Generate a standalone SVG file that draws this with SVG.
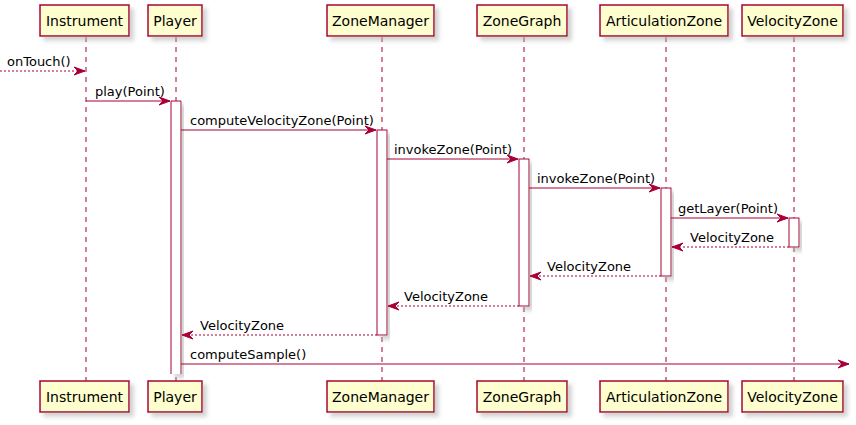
<svg xmlns="http://www.w3.org/2000/svg" width="856" height="425" viewBox="0 0 856 425">
<style>
.box{fill:#FEFECE;stroke:#A80036;stroke-width:1.5;filter:url(#sh)}
.act{fill:#FFFFFF;stroke:#A80036;stroke-width:1;filter:url(#sh)}
.life{stroke:#A80036;stroke-width:1;stroke-dasharray:5,5;fill:none}
.msg{stroke:#A80036;stroke-width:1;fill:none;marker-end:url(#ah)}
.ret{stroke:#A80036;stroke-width:1;fill:none;stroke-dasharray:2,2;marker-end:url(#ah)}
.pt{font-family:"DejaVu Sans",Verdana,sans-serif;font-size:14px;fill:#000}
.mt{font-family:"DejaVu Sans",Verdana,sans-serif;font-size:13px;fill:#000}
</style>
<defs>
<filter id="sh" x="-20%" y="-20%" width="150%" height="150%">
<feGaussianBlur in="SourceAlpha" stdDeviation="2"/>
<feOffset dx="4" dy="4" result="b"/>
<feColorMatrix in="b" type="matrix" values="0 0 0 0 0.45 0 0 0 0 0.45 0 0 0 0 0.45 0 0 0 0.6 0" result="c"/>
<feMerge><feMergeNode in="c"/><feMergeNode in="SourceGraphic"/></feMerge>
</filter>
<marker id="ah" markerUnits="userSpaceOnUse" markerWidth="14" markerHeight="12" viewBox="-12 -6 14 12" refX="0" refY="0" orient="auto">
<path d="M-11,-4 L0,0 L-11,4 L-7,0 Z" fill="#A80036" stroke="#A80036" stroke-width="1"/>
</marker>
</defs>
<g id="lifelines">
<line class="life" x1="86" y1="37" x2="86" y2="381"/>
<line class="life" x1="176" y1="37" x2="176" y2="381"/>
<line class="life" x1="382" y1="37" x2="382" y2="381"/>
<line class="life" x1="524" y1="37" x2="524" y2="381"/>
<line class="life" x1="666" y1="37" x2="666" y2="381"/>
<line class="life" x1="794" y1="37" x2="794" y2="381"/>
</g>
<g id="activations">
<g filter="url(#sh)">
<rect x="171" y="101" width="10" height="273" fill="#FFFFFF"/>
<path d="M171,374 L171,101 L181,101 L181,374" fill="none" stroke="#A80036" stroke-width="1"/>
</g>
<rect class="act" x="377" y="130" width="10" height="205"/>
<rect class="act" x="519" y="159" width="10" height="147"/>
<rect class="act" x="661" y="188" width="10" height="88"/>
<rect class="act" x="789" y="218" width="10" height="29"/>
</g>
<g id="Instrument">
<rect class="box" x="40" y="5" width="89" height="31"/>
<text class="pt" x="84.5" y="25.5" text-anchor="middle">Instrument</text>
<rect class="box" x="40" y="381" width="89" height="31"/>
<text class="pt" x="84.5" y="401.5" text-anchor="middle">Instrument</text>
</g>
<g id="Player">
<rect class="box" x="148" y="5" width="54" height="31"/>
<text class="pt" x="175" y="25.5" text-anchor="middle">Player</text>
<rect class="box" x="148" y="381" width="54" height="31"/>
<text class="pt" x="175" y="401.5" text-anchor="middle">Player</text>
</g>
<g id="ZoneManager">
<rect class="box" x="327" y="5" width="107" height="31"/>
<text class="pt" x="380.5" y="25.5" text-anchor="middle">ZoneManager</text>
<rect class="box" x="327" y="381" width="107" height="31"/>
<text class="pt" x="380.5" y="401.5" text-anchor="middle">ZoneManager</text>
</g>
<g id="ZoneGraph">
<rect class="box" x="477" y="5" width="90" height="31"/>
<text class="pt" x="522" y="25.5" text-anchor="middle">ZoneGraph</text>
<rect class="box" x="477" y="381" width="90" height="31"/>
<text class="pt" x="522" y="401.5" text-anchor="middle">ZoneGraph</text>
</g>
<g id="ArticulationZone">
<rect class="box" x="600" y="5" width="128" height="31"/>
<text class="pt" x="664" y="25.5" text-anchor="middle">ArticulationZone</text>
<rect class="box" x="600" y="381" width="128" height="31"/>
<text class="pt" x="664" y="401.5" text-anchor="middle">ArticulationZone</text>
</g>
<g id="VelocityZone">
<rect class="box" x="742" y="5" width="101" height="31"/>
<text class="pt" x="792.5" y="25.5" text-anchor="middle">VelocityZone</text>
<rect class="box" x="742" y="381" width="101" height="31"/>
<text class="pt" x="792.5" y="401.5" text-anchor="middle">VelocityZone</text>
</g>
<g id="connectors">
<line class="ret" x1="0" y1="71" x2="85" y2="71"/>
<text class="mt" x="7" y="66">onTouch()</text>
<line class="msg" x1="86" y1="101" x2="170" y2="101"/>
<text class="mt" x="95" y="96">play(Point)</text>
<line class="msg" x1="181" y1="130" x2="376" y2="130"/>
<text class="mt" x="190" y="125">computeVelocityZone(Point)</text>
<line class="msg" x1="387" y1="159" x2="518" y2="159"/>
<text class="mt" x="394" y="154">invokeZone(Point)</text>
<line class="msg" x1="529" y1="188" x2="660" y2="188"/>
<text class="mt" x="537" y="183">invokeZone(Point)</text>
<line class="msg" x1="671" y1="218" x2="788" y2="218"/>
<text class="mt" x="678" y="213">getLayer(Point)</text>
<line class="ret" x1="789" y1="247" x2="672" y2="247"/>
<text class="mt" x="690" y="242">VelocityZone</text>
<line class="ret" x1="661" y1="276" x2="530" y2="276"/>
<text class="mt" x="547" y="271">VelocityZone</text>
<line class="ret" x1="519" y1="306" x2="388" y2="306"/>
<text class="mt" x="404" y="301">VelocityZone</text>
<line class="ret" x1="377" y1="335" x2="182" y2="335"/>
<text class="mt" x="200" y="330">VelocityZone</text>
<line class="msg" x1="181" y1="364" x2="849" y2="364"/>
<text class="mt" x="190" y="359">computeSample()</text>
</g>
</svg>
